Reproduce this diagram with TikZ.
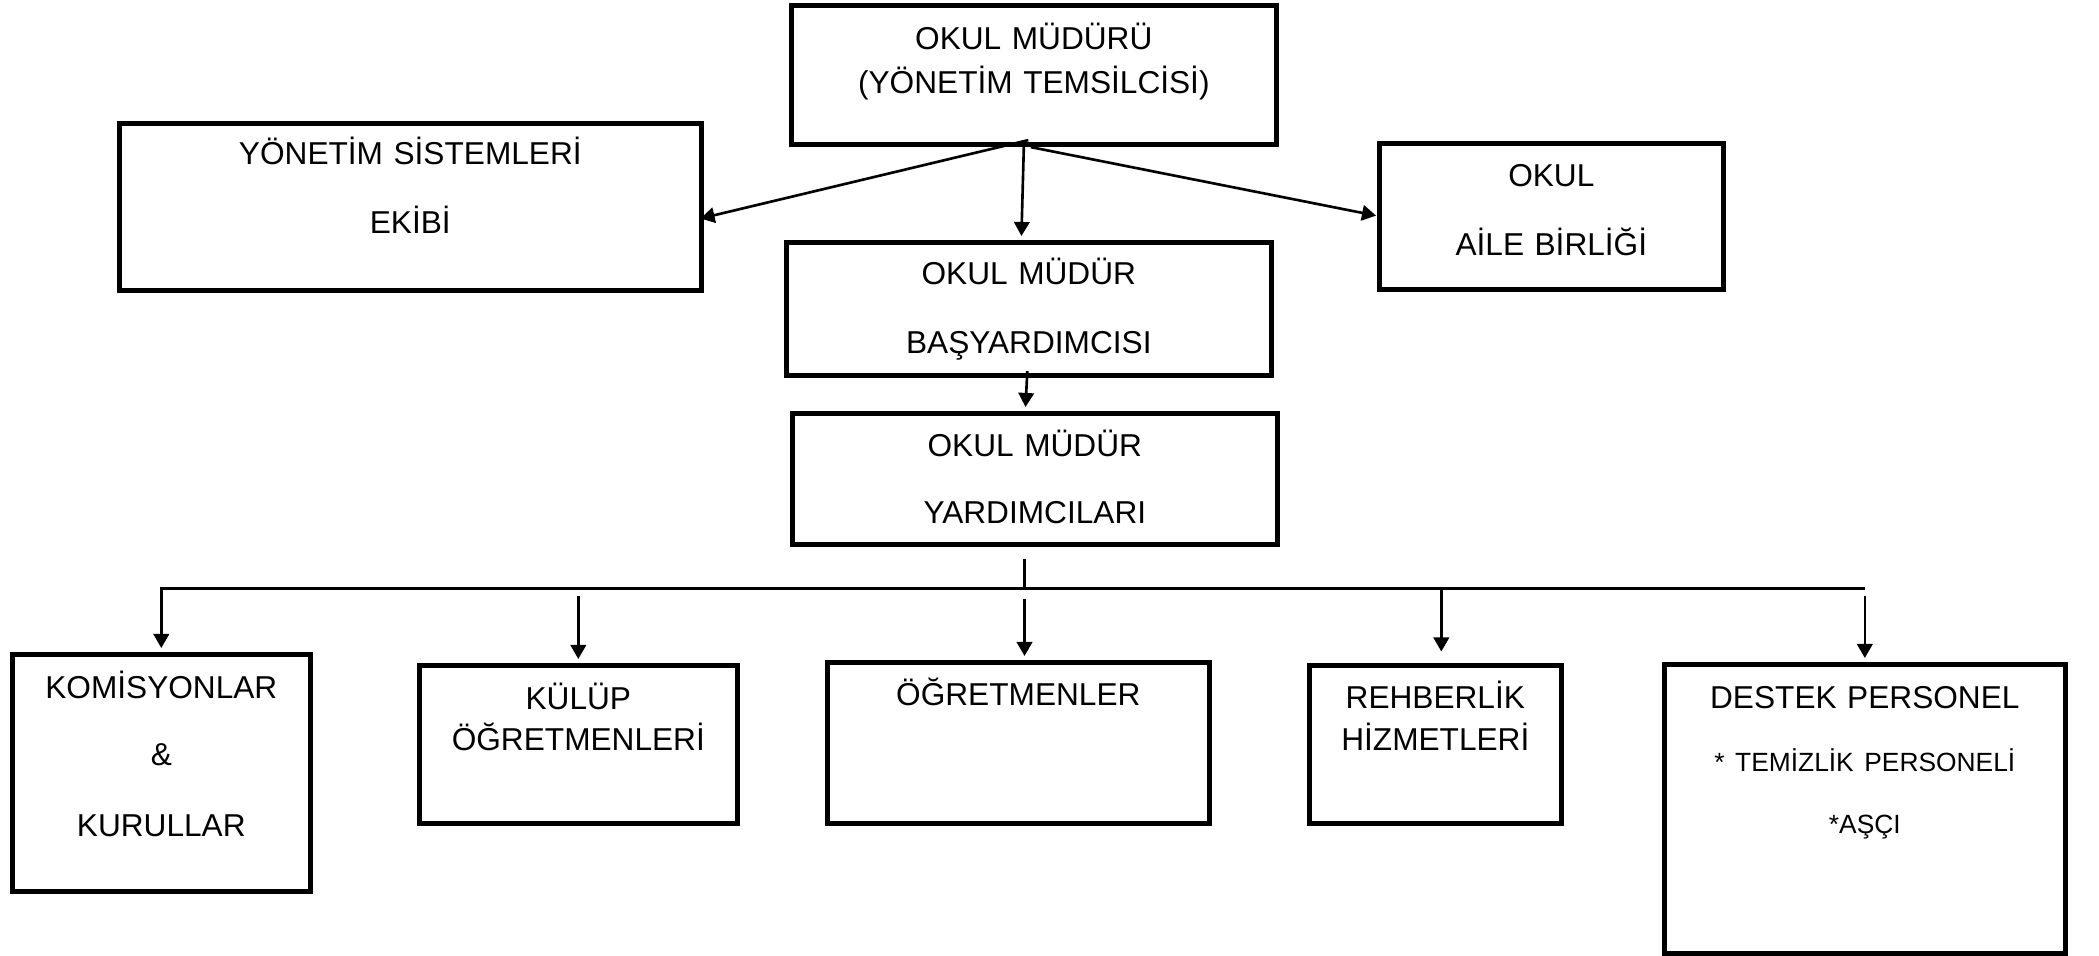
\documentclass[tikz,border=0pt]{standalone}
\usepackage{fontspec}
\setmainfont{Liberation Sans}
\usetikzlibrary{arrows.meta}

\begin{document}
\begin{tikzpicture}[
            > = {Triangle[length=4pt, width=4.4pt]}, % arrow head style
            shorten > = 1pt, % don't touch arrow head to node
            line width = 0.75pt % line style
        ]

        \tikzstyle{unit}=[
            draw = black,
            line width = 1.6pt,
            inner sep = 0pt,
            anchor = north west,
            align = center,
            font = \fontsize{9pt}{11.7pt}\selectfont
        ]

        \useasboundingbox (0.025,-0.015) rectangle (21.015,-9.565);

        % top level
        \node[unit, text width=4.85cm, text height=0.44cm, text depth=0.95cm] (mudur) at (7.91,-0.04) {OKUL MÜDÜRÜ\\[0.8pt](YÖNETİM TEMSİLCİSİ)};
        \node[unit, text width=5.82cm, text height=0.41cm, text depth=1.26cm] (yonetim) at (1.19,-1.22) {YÖNETİM SİSTEMLERİ\\[7.9pt]EKİBİ};
        \node[unit, text width=3.44cm, text height=0.43cm, text depth=1.03cm] (aile) at (13.79,-1.42) {OKUL\\[7.9pt]AİLE BİRLİĞİ};
        \node[unit, text width=4.85cm, text height=0.42cm, text depth=0.91cm] (basyard) at (7.86,-2.41) {OKUL MÜDÜR\\[7.9pt]BAŞYARDIMCISI};
        \node[unit, text width=4.85cm, text height=0.43cm, text depth=0.88cm] (yard) at (7.92,-4.12) {OKUL MÜDÜR\\[7.4pt]YARDIMCILARI};

        % bottom level
        \node[unit, text width=2.98cm, text height=0.44cm, text depth=1.93cm] (komisyon) at (0.12,-6.53) {KOMİSYONLAR\\[7.4pt]\&\\[8.5pt]KURULLAR};
        \node[unit, text width=3.18cm, text height=0.44cm, text depth=1.14cm] (kulup) at (4.19,-6.64) {KÜLÜP\\ÖĞRETMENLERİ};
        \node[unit, text width=3.82cm, text height=0.43cm, text depth=1.18cm] (ogretmen) at (8.27,-6.61) {ÖĞRETMENLER};
        \node[unit, text width=2.52cm, text height=0.43cm, text depth=1.15cm] (rehber) at (13.09,-6.64) {REHBERLİK\\[0.3pt]HİZMETLERİ};
        \node[unit, text width=4.01cm, text height=0.44cm, text depth=2.45cm] (destek) at (16.64,-6.63) {DESTEK PERSONEL\\[6.2pt]{\fontsize{7.5pt}{11.7pt}\selectfont * TEMİZLİK PERSONELİ}\\[5.9pt]{\fontsize{7.5pt}{11.7pt}\selectfont *AŞÇI}};

        \coordinate (bus) at (10.27,-5.90);
        \coordinate (stemtop) at (10.27,-5.57);

        \draw[->] ([shift={(-0.055,0.07)}]mudur.south) -- ([shift={(-0.07,-0.125)}]yonetim.east);
        \draw[->] ([xshift=-0.1cm]mudur.south) -- ([xshift=-0.075cm]basyard.north);
        \draw[->] ([xshift=-0.03cm]mudur.south) -- ([xshift=0.03cm]aile.west);
        \draw[->] ([shift={(-0.015,0.07)}]basyard.south) -- ([xshift=-0.095cm]yard.north);

        \draw (bus) -- (stemtop);
        \draw[->] (destek.north |- bus) -| (komisyon.north);
        \draw[->] (kulup.north |- bus) ++(0,-0.07) -- (kulup.north);
        \draw[->] (bus) ++(0,-0.10) -- (bus |- ogretmen.north);
        \draw[->] (rehber.north |- bus) ++(0.06,0) -- ++(0,-0.665);
        \draw[->] (destek.north |- bus) ++(0,-0.07) -- (destek.north);

        %\draw[red, dashed] (0,-5.9) -- (20.99,-5.9);
    \end{tikzpicture}
\end{document}
